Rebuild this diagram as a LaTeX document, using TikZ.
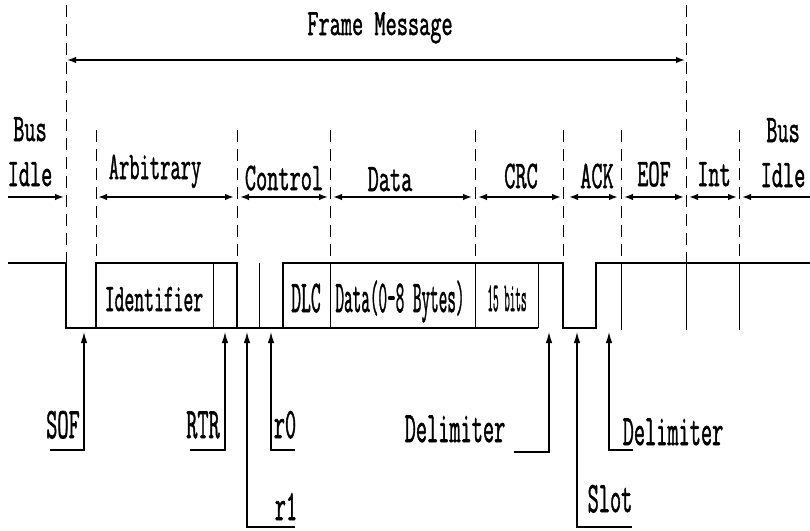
\documentclass[tikz,border=0pt]{standalone}
\usepackage{fontspec}
\newfontfamily\codefont{Latin Modern Mono}[FakeBold=1.6]
\usepackage{graphicx}
\usetikzlibrary{arrows.meta}
\newcommand\tallt[3]{\scalebox{#1}[#2]{#3}}
\begin{document}
\begin{tikzpicture}[x=1pt,y=-1pt,
  lbl/.style={anchor=base,inner sep=0pt,font=\codefont\fontsize{21.7}{22}\selectfont},
  wave/.style={line width=1.5pt},
  cell/.style={line width=1pt},
  guide/.style={line width=0.8pt,dash pattern=on 12pt off 7pt},
  span/.style={line width=1.6pt,{Latex[length=9pt,width=6.5pt]}-{Latex[length=9pt,width=6.5pt]}},
  spanR/.style={line width=1.6pt,-{Latex[length=9pt,width=6.5pt]}},
  spanL/.style={line width=1.6pt,{Latex[length=9pt,width=6.5pt]}-},
  ptr/.style={line width=1.2pt,-{Latex[length=11pt,width=6.5pt]}},
]
\useasboundingbox (0,0) rectangle (810,530);

% ---------- guide lines ----------
\draw[guide] (66,5) -- (66,262);
\draw[guide] (686,5) -- (686,262);
\foreach \gx in {96,237,330,475,563,621,739}
  \draw[guide] (\gx,130) -- (\gx,262);

% ---------- frame message ----------
\node[lbl] (fm) at (380,35) {\tallt{1}{1.7}{Frame Message}};
\coordinate (fmA) at (67,60);
\coordinate (fmB) at (685,60);
\draw[span] (fmA) -- (fmB);

% ---------- field spans ----------
\coordinate (biA) at (8,197);   \coordinate (biB) at (64,197);
\coordinate (arA) at (98,197);  \coordinate (arB) at (234,197);
\coordinate (coA) at (240,197); \coordinate (coB) at (328,197);
\coordinate (daA) at (333,197); \coordinate (daB) at (472,197);
\coordinate (crA) at (478,197); \coordinate (crB) at (561,197);
\coordinate (acA) at (569,197); \coordinate (acB) at (618,197);
\coordinate (eoA) at (624,197); \coordinate (eoB) at (684,197);
\coordinate (inA) at (689,197); \coordinate (inB) at (737,197);
\coordinate (bjA) at (742,197); \coordinate (bjB) at (810,197);
\draw[spanR] (biA) -- (biB);
\draw[span] (arA) -- (arB);
\draw[span] (coA) -- (coB);
\draw[span] (daA) -- (daB);
\draw[span] (crA) -- (crB);
\draw[span] (acA) -- (acB);
\draw[span] (eoA) -- (eoB);
\draw[span] (inA) -- (inB);
\draw[spanL] (bjA) -- (bjB);

\node[lbl] (bus1)  at (30,141)  {\tallt{1}{1.8}{Bus}};
\node[lbl] (idle1) at (30,186)  {\tallt{1}{1.8}{Idle}};
\node[lbl] (arb)   at (155,179) {\tallt{0.92}{1.8}{Arbitrary}};
\node[lbl] (ctl)   at (284,190) {\tallt{1}{1.8}{Control}};
\node[lbl] (dat)   at (390,191) {\tallt{1}{1.8}{Data}};
\node[lbl] (crc)   at (521,188) {\tallt{1}{1.8}{CRC}};
\node[lbl] (ack)   at (597,188) {\tallt{1}{1.8}{ACK}};
\node[lbl] (eof)   at (654,186) {\tallt{1}{1.8}{EOF}};
\node[lbl] (int)   at (714,186) {\tallt{1}{1.8}{Int}};
\node[lbl] (bus2)  at (783,142) {\tallt{1}{1.8}{Bus}};
\node[lbl] (idle2) at (783,187) {\tallt{1}{1.8}{Idle}};

% ---------- waveform ----------
\draw[wave] (8,263) -- (66,263) -- (66,328) -- (538,328);
\draw[wave] (96,328) -- (96,263) -- (237,263) -- (237,328);
\draw[cell] (213,263) -- (213,328);
\draw[cell] (259,263) -- (259,328);
\draw[wave] (283,328) -- (283,263) -- (563,263) -- (563,328) -- (596,328) -- (596,263) -- (810,263);
\draw[cell] (330,263) -- (330,328);
\draw[cell] (475,263) -- (475,328);
\draw[cell] (538,263) -- (538,328);
\foreach \vx in {621,686,739}
  \draw[cell] (\vx,263) -- (\vx,330);

\node[lbl] (idf) at (154,311) {\tallt{0.88}{1.8}{Identifier}};
\node[lbl] (dlc) at (306,312) {\tallt{0.88}{2.1}{DLC}};
\node[lbl] (dbx) at (400,312) {\tallt{0.77}{2.1}{Data(0-8 Bytes)}};
\node[lbl] (crb) at (507,311) {\tallt{0.5}{1.9}{15 bits}};

% ---------- pointers ----------
\coordinate (sofU) at (50,450);  \coordinate (sofT) at (84,332);
\coordinate (rtrU) at (190,450); \coordinate (rtrT) at (225,332);
\coordinate (r1U)  at (295,527); \coordinate (r1T)  at (247,332);
\coordinate (r0U)  at (295,450); \coordinate (r0T)  at (271,332);
\coordinate (dlU)  at (514,452); \coordinate (dlT)  at (549,332);
\coordinate (slU)  at (632,527); \coordinate (slT)  at (577,332);
\coordinate (drU)  at (633,450); \coordinate (drT)  at (609,332);
\draw[ptr] (sofU) -| (sofT);
\draw[ptr] (rtrU) -| (rtrT);
\draw[ptr] (r1U) -| (r1T);
\draw[ptr] (r0U) -| (r0T);
\draw[ptr] (dlU) -| (dlT);
\draw[ptr] (slU) -| (slT);
\draw[ptr] (drU) -| (drT);

\node[lbl] (sof) at (63,438)  {\tallt{1}{2}{SOF}};
\node[lbl] (rtr) at (203,438) {\tallt{1}{2}{RTR}};
\node[lbl] (r0)  at (285,438) {\tallt{1}{2}{r0}};
\node[lbl] (r1)  at (286,520) {\tallt{1}{2}{r1}};
\node[lbl] (dl1) at (455,442) {\tallt{1}{2}{Delimiter}};
\node[lbl] (slt) at (610,512) {\tallt{1}{2}{Slot}};
\node[lbl] (dl2) at (673,445) {\tallt{1}{2}{Delimiter}};
\end{tikzpicture}
\end{document}
